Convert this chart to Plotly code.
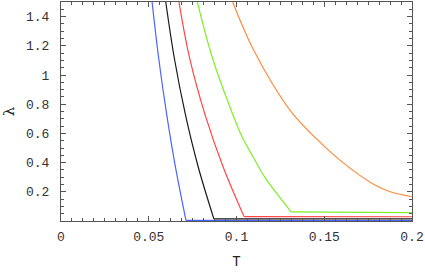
import plotly.graph_objects as go

# --- data ---
blue_T = [0.0519, 0.0556, 0.0603, 0.0652, 0.0712]
blue_L = [1.5, 1.12, 0.723, 0.37, 0.004]
blue_flat = 0.003

black_T = [0.0597, 0.0645, 0.0710, 0.0782, 0.0871]
black_L = [1.5, 1.12, 0.723, 0.37, 0.015]
black_flat = 0.014

red_T = [0.0672, 0.0732, 0.0822, 0.0924, 0.1043]
red_L = [1.5, 1.12, 0.723, 0.37, 0.030]
red_flat = 0.029

green_T = [0.0777, 0.0862, 0.0981, 0.1032, 0.1095, 0.1160, 0.1311]
green_L = [1.5, 1.12, 0.723, 0.575, 0.438, 0.302, 0.063]
green_flat = 0.058

orange_T = [0.0978, 0.1034, 0.1090, 0.1202, 0.1315, 0.1465, 0.1596, 0.1783, 0.1876, 0.2]
orange_L = [1.5, 1.336, 1.188, 0.945, 0.743, 0.552, 0.410, 0.250, 0.200, 0.166]

T_end = 0.2

x_tickvals = [0, 0.05, 0.1, 0.15, 0.2]
x_ticktext = ["0", "0.05", "0.1", "0.15", "0.2"]
y_tickvals = [0.2, 0.4, 0.6, 0.8, 1.0, 1.2, 1.4]
y_ticktext = ["0.2", "0.4", "0.6", "0.8", "1", "1.2", "1.4"]

series = [
    (blue_T, blue_L, blue_flat, "#4a64ff"),
    (black_T, black_L, black_flat, "#1a1a1a"),
    (red_T, red_L, red_flat, "#ff4545"),
    (green_T, green_L, green_flat, "#7ef02a"),
]

fig = go.Figure()
for T, L, flat, col in series:
    fig.add_trace(go.Scatter(x=T, y=L, mode="lines",
                             line=dict(color=col, width=1.2, shape="spline", smoothing=1.0),
                             showlegend=False, hoverinfo="skip"))
    fig.add_trace(go.Scatter(x=[T[-1], T_end], y=[L[-1], flat], mode="lines",
                             line=dict(color=col, width=1.2),
                             showlegend=False, hoverinfo="skip"))
fig.add_trace(go.Scatter(x=orange_T, y=orange_L, mode="lines",
                         line=dict(color="#ff8a3c", width=1.2, shape="spline", smoothing=1.0),
                         showlegend=False, hoverinfo="skip"))

font = dict(family="Liberation Mono, Courier New, monospace", size=13, color="#333")
axis_common = dict(
    showline=True, linecolor="#555", linewidth=1, mirror="ticks",
    ticks="inside", ticklen=5, tickcolor="#555", tickwidth=1,
    showgrid=False, zeroline=False, tickfont=font,
)
fig.update_layout(
    width=425, height=273,
    margin=dict(l=56, r=13, t=1, b=52),
    paper_bgcolor="white", plot_bgcolor="white",
    xaxis=dict(range=[0, 0.2], tickvals=x_tickvals, ticktext=x_ticktext,
               minor=dict(ticks="inside", ticklen=3, tickcolor="#555", dtick=0.00625, tick0=0),
               title=dict(text="T", font=dict(family="Liberation Mono, monospace", size=14, color="#222"), standoff=12),
               ticklabelstandoff=3,
               **axis_common),
    yaxis=dict(range=[0, 1.5], tickvals=y_tickvals, ticktext=y_ticktext,
               minor=dict(ticks="inside", ticklen=3, tickcolor="#555", dtick=0.05, tick0=0),
               title=dict(text="λ", font=dict(family="DejaVu Serif, serif", size=15, color="#222"), standoff=14),
               ticklabelstandoff=8,
               **axis_common),
)

fig.write_html("out.html", config={"displayModeBar": False},
               post_script="document.body.style.margin='0';document.body.style.padding='0';")
